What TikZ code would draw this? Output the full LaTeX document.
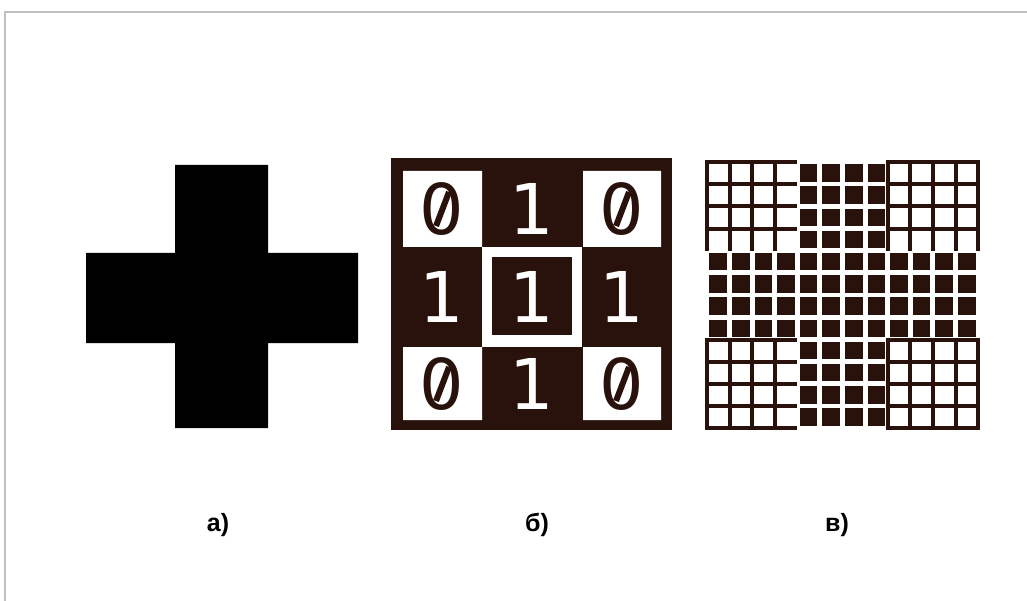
\documentclass[tikz,border=0pt]{standalone}
\usepackage{fontspec}
\setmainfont{Liberation Sans}
\newfontfamily\digitfont{DejaVu Sans}
\definecolor{ink}{RGB}{42,18,12}
\definecolor{framegray}{RGB}{192,192,192}

\begin{document}
\begin{tikzpicture}[x=1pt, y=-1pt,
  zero/.style={font=\digitfont\fontsize{70}{70}\selectfont, text=ink, inner sep=0pt},
  one/.style={font=\digitfont\fontsize{70}{70}\selectfont, text=white, inner sep=0pt},
  slash/.style={draw=ink, line width=6pt},
  caption/.style={font=\bfseries\fontsize{25}{25}\selectfont, anchor=base, inner sep=0pt},
  gridline/.style={draw=ink, line width=4pt},
  cell/.style={fill=ink}
]
\useasboundingbox (0,0) rectangle (1027,601);
\draw[framegray, line width=1.2pt] (5,601) -- (5,12) -- (1027,12);

% a) solid cross
\fill[black] (175,165) -- (268,165) -- (268,253) -- (358,253) -- (358,343) -- (268,343)
  -- (268,428) -- (175,428) -- (175,343) -- (86,343) -- (86,253) -- (175,253) -- cycle;

% b) 3x3 code matrix
\fill[ink] (391,158) rectangle (672,430);
\fill[white] (403,171) rectangle (482,247) (583,171) rectangle (661,247)
  (403,347) rectangle (482,420) (583,347) rectangle (661,420);
\fill[white] (482,247) rectangle (582,347);
\fill[ink] (492,257) rectangle (572,335);
\foreach \cx/\cy [count=\i] in {442/209, 622/209, 442/384, 622/384} {
  \node[zero] (zero\i) at (\cx,\cy) {0};
  \draw[slash] ([shift={(-6,17)}]zero\i.center) -- ([shift={(7,-17)}]zero\i.center);
}
\foreach \cx/\cy [count=\i] in {532/209, 442/297, 532/297, 622/297, 532/384}
  \node[one] (one\i) at (\cx,\cy) {1};

% c) 12x12 raster, origin (707,162), pitch 22.6 x 22.2
\foreach \i in {4,...,7}
  \foreach \j in {0,...,11}
    \path[cell] ({707+\i*22.6+2.4},{162+\j*22.2+2.2}) rectangle ++(17.6,17.4);
\foreach \i in {0,1,2,3,8,9,10,11}
  \foreach \j in {4,...,7}
    \path[cell] ({707+\i*22.6+2.4},{162+\j*22.2+2.2}) rectangle ++(17.6,17.4);

% corner quadrants
\foreach \k in {0,...,3} {
  \draw[gridline] ({707+\k*22.6},160) -- ({707+\k*22.6},250.8);
  \draw[gridline] (705,{162+\k*22.2}) -- (797.4,{162+\k*22.2});
  \draw[gridline] (885.8,{162+\k*22.2}) -- (980.2,{162+\k*22.2});
  \draw[gridline] ({707+\k*22.6},337.6) -- ({707+\k*22.6},430.4);
}
\foreach \k in {8,...,12} {
  \draw[gridline] ({707+\k*22.6},160) -- ({707+\k*22.6},250.8);
  \draw[gridline] (705,{162+\k*22.2}) -- (797.4,{162+\k*22.2});
  \draw[gridline] ({707+\k*22.6},337.6) -- ({707+\k*22.6},430.4);
  \draw[gridline] (885.8,{162+\k*22.2}) -- (980.2,{162+\k*22.2});
}

\node[caption] (capa) at (218,531) {а)};
\node[caption] (capb) at (537,531) {б)};
\node[caption] (capc) at (837,531) {в)};
\end{tikzpicture}
\end{document}
